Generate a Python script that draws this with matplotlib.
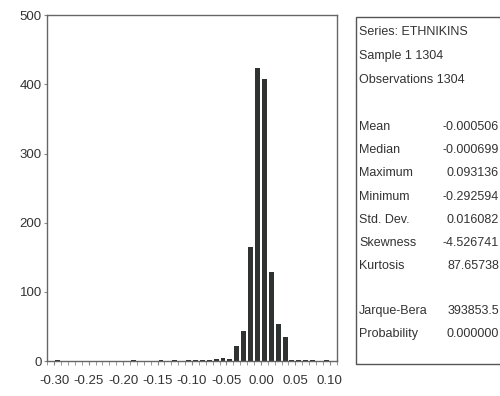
import matplotlib.pyplot as plt
import numpy as np
from matplotlib.patches import Rectangle
from matplotlib.ticker import MultipleLocator

# histogram bins (centre of each 0.01-wide bin) and counts
bin_centers = [-0.295, -0.185, -0.145, -0.125, -0.105, -0.095, -0.085, -0.075,
               -0.065, -0.055, -0.045, -0.035, -0.025, -0.015, -0.005,
               0.005, 0.015, 0.025, 0.035, 0.045, 0.055, 0.065, 0.075, 0.095]
counts = [1, 1, 1, 1, 1, 1, 1, 2,
          3, 4, 3, 22, 43, 165, 424,
          408, 129, 54, 34, 2, 1, 1, 1, 1]
bin_width = 0.01

yticks = [0, 100, 200, 300, 400, 500]
xticks = [-0.30, -0.25, -0.20, -0.15, -0.10, -0.05, 0.00, 0.05, 0.10]

header = ["Series: ETHNIKINS", "Sample 1 1304", "Observations 1304"]
stat_names = ["Mean", "Median", "Maximum", "Minimum", "Std. Dev.", "Skewness", "Kurtosis"]
stat_values = ["-0.000506", "-0.000699", "0.093136", "-0.292594", "0.016082", "-4.526741", "87.65738"]
jb_names = ["Jarque-Bera", "Probability"]
jb_values = ["393853.5", "0.000000"]

plt.rcParams['font.family'] = ['Liberation Sans', 'DejaVu Sans']
TXT = '#333333'
W, H = 500, 396

fig = plt.figure(figsize=(5, 3.96), dpi=100)
ax = fig.add_axes([47.3 / W, 1 - 361 / H, (336.7 - 47.3) / W, (361 - 15.3) / H])

ax.bar(bin_centers, counts, width=bin_width * 0.72, color='#2e3331', linewidth=0)
ax.set_xlim(-0.31, 0.11)
ax.set_ylim(0, 500)

ax.set_xticks(xticks)
ax.set_xticklabels([f"{v:.2f}" for v in xticks])
ax.xaxis.set_minor_locator(MultipleLocator(0.01))
ax.set_yticks(yticks)

for s in ax.spines.values():
    s.set_color('#666666')
    s.set_linewidth(1.0)
ax.tick_params(axis='both', which='both', colors='#888888', labelcolor=TXT, labelsize=9.5)
ax.tick_params(axis='x', which='both', length=3, pad=7)
ax.tick_params(axis='y', length=2, pad=2)

# statistics box (runs off the right edge like the original)
fig.patches.append(Rectangle((356 / W, 1 - 364 / H), 200 / W, (364 - 17) / H,
                             transform=fig.transFigure, fill=False,
                             edgecolor='#555555', linewidth=1.0))

def put(txt, x, y, ha='left'):
    fig.text(x / W, 1 - y / H, txt, ha=ha, va='center', fontsize=9, color=TXT)

for i, t in enumerate(header):
    put(t, 359, 32 + i * 24)
for i, (n, v) in enumerate(zip(stat_names, stat_values)):
    y = 127 + i * 23.2
    put(n, 359, y)
    put(v, 499, y, ha='right')
for i, (n, v) in enumerate(zip(jb_names, jb_values)):
    y = 311 + i * 23
    put(n, 359, y)
    put(v, 499, y, ha='right')

fig.savefig('out.png', dpi=100)
